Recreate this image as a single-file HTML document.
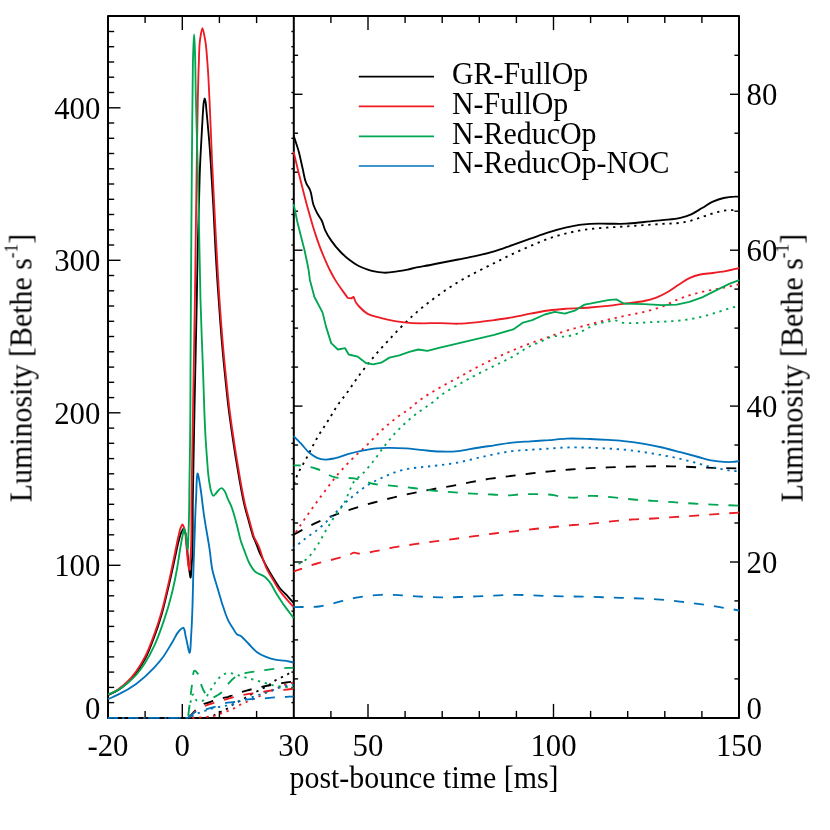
<!DOCTYPE html>
<html><head><meta charset="utf-8"><title>Luminosity vs post-bounce time</title>
<style>
html,body{margin:0;padding:0;background:#fff;}
body{width:830px;height:830px;overflow:hidden;font-family:"Liberation Serif",serif;}
svg{display:block;}
</style></head><body>
<svg width="830" height="830" viewBox="0 0 830 830">
<defs><clipPath id="cl"><rect x="107.0" y="16.1" width="187.7" height="702.9"/></clipPath><clipPath id="cr"><rect x="292.8" y="16.1" width="447.2" height="702.9"/></clipPath></defs>
<rect width="830" height="830" fill="#fff"/>
<g stroke="#000" stroke-width="1.40" fill="none"><line x1="108.0" y1="717.9" x2="120.5" y2="717.9"/><line x1="293.8" y1="717.9" x2="290.1" y2="717.9"/><line x1="108.0" y1="702.6" x2="114.2" y2="702.6"/><line x1="293.8" y1="702.6" x2="291.4" y2="702.6"/><line x1="108.0" y1="687.4" x2="114.2" y2="687.4"/><line x1="293.8" y1="687.4" x2="291.4" y2="687.4"/><line x1="108.0" y1="672.1" x2="114.2" y2="672.1"/><line x1="293.8" y1="672.1" x2="291.4" y2="672.1"/><line x1="108.0" y1="656.9" x2="114.2" y2="656.9"/><line x1="293.8" y1="656.9" x2="291.4" y2="656.9"/><line x1="108.0" y1="641.6" x2="114.2" y2="641.6"/><line x1="293.8" y1="641.6" x2="291.4" y2="641.6"/><line x1="108.0" y1="626.4" x2="114.2" y2="626.4"/><line x1="293.8" y1="626.4" x2="291.4" y2="626.4"/><line x1="108.0" y1="611.1" x2="114.2" y2="611.1"/><line x1="293.8" y1="611.1" x2="291.4" y2="611.1"/><line x1="108.0" y1="595.8" x2="114.2" y2="595.8"/><line x1="293.8" y1="595.8" x2="291.4" y2="595.8"/><line x1="108.0" y1="580.6" x2="114.2" y2="580.6"/><line x1="293.8" y1="580.6" x2="291.4" y2="580.6"/><line x1="108.0" y1="565.3" x2="120.5" y2="565.3"/><line x1="293.8" y1="565.3" x2="290.1" y2="565.3"/><line x1="108.0" y1="550.1" x2="114.2" y2="550.1"/><line x1="293.8" y1="550.1" x2="291.4" y2="550.1"/><line x1="108.0" y1="534.8" x2="114.2" y2="534.8"/><line x1="293.8" y1="534.8" x2="291.4" y2="534.8"/><line x1="108.0" y1="519.6" x2="114.2" y2="519.6"/><line x1="293.8" y1="519.6" x2="291.4" y2="519.6"/><line x1="108.0" y1="504.3" x2="114.2" y2="504.3"/><line x1="293.8" y1="504.3" x2="291.4" y2="504.3"/><line x1="108.0" y1="489.1" x2="114.2" y2="489.1"/><line x1="293.8" y1="489.1" x2="291.4" y2="489.1"/><line x1="108.0" y1="473.8" x2="114.2" y2="473.8"/><line x1="293.8" y1="473.8" x2="291.4" y2="473.8"/><line x1="108.0" y1="458.6" x2="114.2" y2="458.6"/><line x1="293.8" y1="458.6" x2="291.4" y2="458.6"/><line x1="108.0" y1="443.3" x2="114.2" y2="443.3"/><line x1="293.8" y1="443.3" x2="291.4" y2="443.3"/><line x1="108.0" y1="428.1" x2="114.2" y2="428.1"/><line x1="293.8" y1="428.1" x2="291.4" y2="428.1"/><line x1="108.0" y1="412.8" x2="120.5" y2="412.8"/><line x1="293.8" y1="412.8" x2="290.1" y2="412.8"/><line x1="108.0" y1="397.6" x2="114.2" y2="397.6"/><line x1="293.8" y1="397.6" x2="291.4" y2="397.6"/><line x1="108.0" y1="382.3" x2="114.2" y2="382.3"/><line x1="293.8" y1="382.3" x2="291.4" y2="382.3"/><line x1="108.0" y1="367.1" x2="114.2" y2="367.1"/><line x1="293.8" y1="367.1" x2="291.4" y2="367.1"/><line x1="108.0" y1="351.8" x2="114.2" y2="351.8"/><line x1="293.8" y1="351.8" x2="291.4" y2="351.8"/><line x1="108.0" y1="336.5" x2="114.2" y2="336.5"/><line x1="293.8" y1="336.5" x2="291.4" y2="336.5"/><line x1="108.0" y1="321.3" x2="114.2" y2="321.3"/><line x1="293.8" y1="321.3" x2="291.4" y2="321.3"/><line x1="108.0" y1="306.0" x2="114.2" y2="306.0"/><line x1="293.8" y1="306.0" x2="291.4" y2="306.0"/><line x1="108.0" y1="290.8" x2="114.2" y2="290.8"/><line x1="293.8" y1="290.8" x2="291.4" y2="290.8"/><line x1="108.0" y1="275.5" x2="114.2" y2="275.5"/><line x1="293.8" y1="275.5" x2="291.4" y2="275.5"/><line x1="108.0" y1="260.3" x2="120.5" y2="260.3"/><line x1="293.8" y1="260.3" x2="290.1" y2="260.3"/><line x1="108.0" y1="245.0" x2="114.2" y2="245.0"/><line x1="293.8" y1="245.0" x2="291.4" y2="245.0"/><line x1="108.0" y1="229.8" x2="114.2" y2="229.8"/><line x1="293.8" y1="229.8" x2="291.4" y2="229.8"/><line x1="108.0" y1="214.5" x2="114.2" y2="214.5"/><line x1="293.8" y1="214.5" x2="291.4" y2="214.5"/><line x1="108.0" y1="199.3" x2="114.2" y2="199.3"/><line x1="293.8" y1="199.3" x2="291.4" y2="199.3"/><line x1="108.0" y1="184.0" x2="114.2" y2="184.0"/><line x1="293.8" y1="184.0" x2="291.4" y2="184.0"/><line x1="108.0" y1="168.8" x2="114.2" y2="168.8"/><line x1="293.8" y1="168.8" x2="291.4" y2="168.8"/><line x1="108.0" y1="153.5" x2="114.2" y2="153.5"/><line x1="293.8" y1="153.5" x2="291.4" y2="153.5"/><line x1="108.0" y1="138.3" x2="114.2" y2="138.3"/><line x1="293.8" y1="138.3" x2="291.4" y2="138.3"/><line x1="108.0" y1="123.0" x2="114.2" y2="123.0"/><line x1="293.8" y1="123.0" x2="291.4" y2="123.0"/><line x1="108.0" y1="107.8" x2="120.5" y2="107.8"/><line x1="293.8" y1="107.8" x2="290.1" y2="107.8"/><line x1="108.0" y1="92.5" x2="114.2" y2="92.5"/><line x1="293.8" y1="92.5" x2="291.4" y2="92.5"/><line x1="108.0" y1="77.2" x2="114.2" y2="77.2"/><line x1="293.8" y1="77.2" x2="291.4" y2="77.2"/><line x1="108.0" y1="62.0" x2="114.2" y2="62.0"/><line x1="293.8" y1="62.0" x2="291.4" y2="62.0"/><line x1="108.0" y1="46.7" x2="114.2" y2="46.7"/><line x1="293.8" y1="46.7" x2="291.4" y2="46.7"/><line x1="108.0" y1="31.5" x2="114.2" y2="31.5"/><line x1="293.8" y1="31.5" x2="291.4" y2="31.5"/><line x1="108.0" y1="16.2" x2="114.2" y2="16.2"/><line x1="293.8" y1="16.2" x2="291.4" y2="16.2"/><line x1="145.1" y1="16.1" x2="145.1" y2="23.1"/><line x1="145.1" y1="717.9" x2="145.1" y2="710.9"/><line x1="182.3" y1="16.1" x2="182.3" y2="30.1"/><line x1="182.3" y1="717.9" x2="182.3" y2="703.9"/><line x1="219.4" y1="16.1" x2="219.4" y2="23.1"/><line x1="219.4" y1="717.9" x2="219.4" y2="710.9"/><line x1="256.6" y1="16.1" x2="256.6" y2="23.1"/><line x1="256.6" y1="717.9" x2="256.6" y2="710.9"/><line x1="330.9" y1="16.1" x2="330.9" y2="23.1"/><line x1="330.9" y1="717.9" x2="330.9" y2="710.9"/><line x1="368.0" y1="16.1" x2="368.0" y2="30.1"/><line x1="368.0" y1="717.9" x2="368.0" y2="703.9"/><line x1="405.1" y1="16.1" x2="405.1" y2="23.1"/><line x1="405.1" y1="717.9" x2="405.1" y2="710.9"/><line x1="442.2" y1="16.1" x2="442.2" y2="23.1"/><line x1="442.2" y1="717.9" x2="442.2" y2="710.9"/><line x1="479.3" y1="16.1" x2="479.3" y2="23.1"/><line x1="479.3" y1="717.9" x2="479.3" y2="710.9"/><line x1="516.4" y1="16.1" x2="516.4" y2="23.1"/><line x1="516.4" y1="717.9" x2="516.4" y2="710.9"/><line x1="553.5" y1="16.1" x2="553.5" y2="30.1"/><line x1="553.5" y1="717.9" x2="553.5" y2="703.9"/><line x1="590.6" y1="16.1" x2="590.6" y2="23.1"/><line x1="590.6" y1="717.9" x2="590.6" y2="710.9"/><line x1="627.7" y1="16.1" x2="627.7" y2="23.1"/><line x1="627.7" y1="717.9" x2="627.7" y2="710.9"/><line x1="664.8" y1="16.1" x2="664.8" y2="23.1"/><line x1="664.8" y1="717.9" x2="664.8" y2="710.9"/><line x1="701.9" y1="16.1" x2="701.9" y2="23.1"/><line x1="701.9" y1="717.9" x2="701.9" y2="710.9"/><line x1="293.8" y1="678.9" x2="298.1" y2="678.9"/><line x1="739.0" y1="678.9" x2="734.4" y2="678.9"/><line x1="293.8" y1="639.9" x2="298.1" y2="639.9"/><line x1="739.0" y1="639.9" x2="734.4" y2="639.9"/><line x1="293.8" y1="600.9" x2="298.1" y2="600.9"/><line x1="739.0" y1="600.9" x2="734.4" y2="600.9"/><line x1="293.8" y1="562.0" x2="302.5" y2="562.0"/><line x1="739.0" y1="562.0" x2="730.0" y2="562.0"/><line x1="293.8" y1="523.0" x2="298.1" y2="523.0"/><line x1="739.0" y1="523.0" x2="734.4" y2="523.0"/><line x1="293.8" y1="484.0" x2="298.1" y2="484.0"/><line x1="739.0" y1="484.0" x2="734.4" y2="484.0"/><line x1="293.8" y1="445.0" x2="298.1" y2="445.0"/><line x1="739.0" y1="445.0" x2="734.4" y2="445.0"/><line x1="293.8" y1="406.1" x2="302.5" y2="406.1"/><line x1="739.0" y1="406.1" x2="730.0" y2="406.1"/><line x1="293.8" y1="367.1" x2="298.1" y2="367.1"/><line x1="739.0" y1="367.1" x2="734.4" y2="367.1"/><line x1="293.8" y1="328.1" x2="298.1" y2="328.1"/><line x1="739.0" y1="328.1" x2="734.4" y2="328.1"/><line x1="293.8" y1="289.1" x2="298.1" y2="289.1"/><line x1="739.0" y1="289.1" x2="734.4" y2="289.1"/><line x1="293.8" y1="250.2" x2="302.5" y2="250.2"/><line x1="739.0" y1="250.2" x2="730.0" y2="250.2"/><line x1="293.8" y1="211.2" x2="298.1" y2="211.2"/><line x1="739.0" y1="211.2" x2="734.4" y2="211.2"/><line x1="293.8" y1="172.2" x2="298.1" y2="172.2"/><line x1="739.0" y1="172.2" x2="734.4" y2="172.2"/><line x1="293.8" y1="133.2" x2="298.1" y2="133.2"/><line x1="739.0" y1="133.2" x2="734.4" y2="133.2"/><line x1="293.8" y1="94.3" x2="302.5" y2="94.3"/><line x1="739.0" y1="94.3" x2="730.0" y2="94.3"/><line x1="293.8" y1="55.3" x2="298.1" y2="55.3"/><line x1="739.0" y1="55.3" x2="734.4" y2="55.3"/></g>
<g stroke="#000" stroke-width="2.0" stroke-linejoin="round" fill="none"><rect x="108.0" y="16.1" width="631.0" height="701.8"/><line x1="293.8" y1="16.1" x2="293.8" y2="717.9"/></g>
<g fill="none" stroke-width="1.85" stroke-linejoin="round" clip-path="url(#cl)">
<path d="M108.1 695.2C111.4 693.5 114.9 692.2 118.0 690.2C121.2 688.1 124.3 685.6 127.1 683.0C130.4 680.0 133.4 676.5 136.1 673.0C139.6 668.5 142.5 663.6 145.2 658.6C148.9 651.7 151.5 644.2 154.2 636.9C156.9 629.8 159.3 622.5 161.4 615.2C163.5 608.0 165.1 600.8 166.9 593.5C168.8 585.7 170.6 577.8 172.3 570.0C173.6 564.3 174.7 558.7 176.0 553.0C177.1 548.0 178.0 542.9 179.5 538.0C180.2 535.6 180.7 533.1 182.0 531.0C182.4 530.3 183.0 529.1 183.4 529.0C184.0 528.9 184.5 531.0 185.0 532.0C187.1 536.6 186.4 542.0 187.0 547.0C187.8 554.0 188.0 561.0 189.0 568.0C189.4 571.2 190.1 577.1 190.5 577.5C191.0 578.0 191.4 569.2 191.7 565.0C193.5 543.4 192.4 521.7 192.8 500.0C193.2 480.0 193.5 460.0 193.9 440.0C194.3 416.7 194.8 393.3 195.3 370.0C195.8 346.7 196.3 323.3 196.8 300.0C197.1 283.3 197.3 266.7 197.7 250.0C198.0 235.2 198.5 220.5 198.9 205.7C199.3 192.8 199.5 179.9 200.0 167.0C200.3 159.7 200.7 152.3 201.1 145.0C201.4 139.5 201.7 134.1 202.0 128.6C202.4 122.4 202.6 116.2 203.1 110.0C203.3 107.2 203.3 104.3 203.9 101.5C204.1 100.5 204.4 98.5 204.7 98.5C205.0 98.5 205.3 100.5 205.5 101.5C206.1 104.3 206.1 107.2 206.4 110.0C207.0 116.2 207.6 122.4 208.1 128.6C208.6 134.1 209.1 139.5 209.5 145.0C210.1 152.3 210.5 159.7 211.0 167.0C211.8 179.9 212.6 192.8 213.3 205.7C214.1 220.5 214.7 235.2 215.5 250.0C216.4 266.7 217.5 283.3 218.7 300.0C219.6 313.3 220.6 326.7 221.7 340.0C222.8 353.3 224.1 366.7 225.5 380.0C226.6 390.8 227.7 401.7 229.1 412.5C230.3 421.7 231.6 430.8 233.0 440.0C234.1 447.2 235.2 454.5 236.4 461.7C237.6 468.9 238.8 476.2 240.1 483.4C241.4 490.7 242.7 497.9 244.4 505.1C245.9 511.4 247.8 517.6 249.5 523.9C250.7 528.3 252.0 532.8 253.3 537.2C253.7 538.1 254.2 538.9 254.6 539.8C256.6 544.0 257.8 548.6 259.7 552.8C260.7 555.1 261.9 557.3 263.0 559.5C264.0 561.6 265.0 563.7 266.1 565.8C268.3 570.0 270.8 574.1 273.4 578.2C275.7 581.9 277.8 585.7 280.6 589.0C282.8 591.6 285.5 593.8 287.8 596.3C289.8 598.5 291.7 600.8 293.6 603.0" stroke="#000"/>
<path d="M188.7 717.9C190.9 715.5 192.9 712.9 195.2 710.7C197.7 708.3 200.1 705.5 203.2 704.1C205.0 703.3 207.0 703.1 208.9 702.5C210.4 702.0 211.8 701.4 213.3 700.9C216.2 699.9 219.2 698.8 222.2 698.1C224.0 697.7 225.9 697.6 227.7 697.1C229.1 696.7 230.5 696.0 231.9 695.5C235.0 694.3 238.1 693.1 241.3 692.1C243.0 691.6 244.8 691.1 246.5 690.6C252.9 688.8 259.5 687.3 266.0 686.0C272.7 684.6 279.5 683.5 286.3 682.5C288.7 682.1 291.2 681.8 293.6 681.5" stroke="#000" stroke-dasharray="10 10.1" id="L_black_dash" stroke-dashoffset="19.6"/>
<path d="M188.4 717.9L207.0 717.9C209.3 717.0 211.7 716.3 214.0 715.3C216.2 714.3 218.3 713.1 220.5 712.0C222.6 711.0 224.7 710.1 226.7 708.9C228.8 707.7 230.7 706.1 232.7 704.8C236.6 702.3 240.9 700.3 245.0 698.0C247.3 696.7 249.6 695.3 252.0 694.0C254.2 692.8 256.5 691.7 258.8 690.5C262.0 688.8 265.2 687.3 268.2 685.4C270.7 683.9 272.9 681.9 275.4 680.4C277.3 679.3 279.3 678.5 281.2 677.5C283.1 676.5 285.1 675.6 287.0 674.6C289.2 673.4 291.4 672.2 293.6 671.0" stroke="#000" stroke-dasharray="2.3 4.75" stroke-width="1.85" id="L_black_dot" stroke-dashoffset="2.9"/>
<path d="M108.1 694.8C111.4 693.0 114.9 691.6 118.0 689.5C121.3 687.3 124.3 684.7 127.1 682.0C130.4 678.8 133.4 675.2 136.1 671.5C139.6 666.8 142.5 661.7 145.2 656.5C148.8 649.5 151.5 641.9 154.2 634.5C156.9 627.3 159.3 619.9 161.4 612.5C163.5 605.2 165.2 597.9 166.9 590.5C168.5 583.7 170.0 576.8 171.5 570.0C172.7 564.3 173.8 558.7 175.0 553.0C176.2 547.3 177.1 541.6 178.5 536.0C179.3 533.0 179.6 529.7 181.0 527.0C181.4 526.1 182.0 524.6 182.5 524.5C183.1 524.4 183.7 526.8 184.2 528.0C185.9 532.3 185.5 537.3 186.0 542.0C186.8 548.7 187.1 555.4 188.0 562.0C188.4 564.7 188.8 569.7 189.2 570.0C189.6 570.4 190.0 563.3 190.3 560.0C192.2 540.1 191.1 520.0 191.5 500.0C191.9 480.0 192.2 460.0 192.5 440.0C192.9 416.7 193.3 393.3 193.7 370.0C194.1 346.7 194.5 323.3 194.9 300.0C195.3 275.0 195.6 250.0 195.9 225.0C196.2 203.3 196.5 181.7 196.8 160.0C197.1 140.0 197.3 120.0 197.8 100.0C198.1 88.0 198.3 76.0 198.8 64.0C199.2 55.3 198.9 46.5 200.3 38.0C200.9 34.7 201.7 28.1 202.4 28.1C203.2 28.1 204.1 34.7 204.8 38.0C206.5 46.5 206.8 55.3 207.5 64.0C208.5 76.0 208.9 88.0 209.5 100.0C210.5 120.0 211.1 140.0 212.0 160.0C213.1 183.3 214.3 206.7 215.5 230.0C216.8 253.3 217.9 276.7 219.5 300.0C220.4 313.3 221.4 326.7 222.5 340.0C223.6 353.3 224.9 366.7 226.3 380.0C227.4 390.8 228.5 401.7 229.9 412.5C231.1 421.7 232.4 430.8 233.8 440.0C234.9 447.2 236.0 454.5 237.2 461.7C238.4 468.9 239.6 476.2 240.9 483.4C242.2 490.7 243.5 497.9 245.2 505.1C246.7 511.4 248.6 517.6 250.3 523.9C251.5 528.2 252.7 532.6 253.9 536.9C255.6 540.3 257.5 543.5 259.0 547.0C260.8 551.2 261.7 555.7 263.3 560.0C264.2 562.4 265.1 564.9 266.1 567.3C268.1 571.9 270.9 576.1 273.4 580.4C275.7 584.3 277.9 588.3 280.6 591.9C282.8 594.9 285.3 597.8 287.8 600.6C289.7 602.8 291.7 604.9 293.6 607.0" stroke="#ed1c24"/>
<path d="M188.7 717.9C190.9 715.7 192.8 713.4 195.2 711.5C198.0 709.3 201.3 707.4 204.6 705.9C207.6 704.6 210.8 703.8 214.0 702.8C217.3 701.8 220.7 700.9 224.1 699.9C227.0 699.1 229.9 698.2 232.8 697.4C236.4 696.4 240.0 695.5 243.6 694.8C246.5 694.2 249.4 693.8 252.3 693.4C255.9 692.9 259.5 692.4 263.1 691.9C266.0 691.5 268.9 690.8 271.8 690.5C275.6 690.0 279.5 690.1 283.4 689.8C286.8 689.5 290.2 689.1 293.6 688.7" stroke="#ed1c24" stroke-dasharray="10 10.1" id="L_red_dash" stroke-dashoffset="19.9"/>
<path d="M188.4 717.9L193.0 717.9C197.8 717.5 202.7 717.4 207.5 716.8C209.7 716.5 211.9 716.3 214.0 715.8C216.2 715.3 218.3 714.3 220.5 713.6C222.7 712.9 224.9 712.2 227.0 711.4C229.2 710.6 231.4 709.6 233.5 708.6C235.7 707.5 237.8 706.0 240.0 704.9C242.1 703.8 244.3 703.0 246.5 702.0C248.7 701.1 250.8 700.1 253.0 699.2C255.2 698.2 257.4 697.4 259.5 696.3C261.7 695.2 263.8 693.7 266.0 692.6C268.1 691.6 270.3 690.7 272.5 689.8C274.6 688.9 276.8 688.1 279.0 687.3C281.2 686.4 283.3 685.4 285.5 684.7C288.1 683.8 290.9 683.3 293.6 682.6" stroke="#ed1c24" stroke-dasharray="2.3 4.75" stroke-width="1.85" id="L_red_dot" stroke-dashoffset="3.3"/>
<path d="M108.1 694.5C111.4 693.0 114.9 691.8 118.0 690.0C121.2 688.1 124.2 685.9 127.1 683.5C130.3 680.9 133.3 678.1 136.1 675.0C139.4 671.3 142.3 667.2 145.0 663.0C148.5 657.6 151.5 651.7 154.2 645.9C157.8 638.3 160.6 630.3 163.3 622.4C166.8 612.3 169.8 602.1 172.3 591.7C174.0 584.5 175.5 577.3 176.8 570.0C178.0 563.4 178.9 556.7 180.0 550.0C180.8 545.3 181.4 540.6 182.5 536.0C183.0 533.7 183.7 528.8 184.3 529.0C184.8 529.2 185.4 533.0 185.8 535.0C186.8 539.7 187.2 548.6 187.6 549.3C188.2 550.2 188.3 536.4 188.6 530.0C189.3 513.3 189.2 496.7 189.5 480.0C189.7 466.7 189.9 453.3 190.1 440.0C190.4 416.7 190.4 393.3 190.5 370.0C190.6 346.7 190.8 323.3 190.9 300.0C191.1 275.0 191.2 250.0 191.4 225.0C191.6 203.3 191.7 181.7 191.9 160.0C192.1 136.7 192.3 113.3 192.6 90.0C192.8 76.7 192.7 63.3 193.3 50.0C193.5 44.8 193.8 34.4 194.1 34.4C194.4 34.4 194.7 44.8 194.9 50.0C195.5 63.3 195.4 76.7 195.7 90.0C196.2 113.3 196.9 136.7 197.5 160.0C198.0 181.7 198.5 203.3 199.0 225.0C199.5 250.0 199.8 275.0 200.5 300.0C201.2 323.3 202.1 346.7 203.0 370.0C203.9 393.3 204.2 416.7 205.7 440.0C206.1 445.7 206.4 451.3 206.9 457.0C207.6 466.0 207.9 475.1 209.6 484.0C210.1 486.7 210.3 489.5 211.3 492.0C211.8 493.3 212.4 495.8 213.3 495.8C213.9 495.8 214.8 494.7 215.5 494.0C216.7 492.9 217.3 491.2 218.5 490.2C219.4 489.4 220.7 488.1 221.7 488.2C222.9 488.3 223.9 490.3 224.8 491.5C226.3 493.6 226.6 496.3 227.7 498.7C228.7 500.9 229.9 502.9 230.8 505.1C233.4 511.1 234.9 517.6 236.6 523.9C238.2 529.6 239.1 535.5 240.9 541.2C242.2 545.1 243.7 548.9 245.2 552.8C246.4 556.0 247.4 559.4 249.0 562.5C250.7 565.8 252.6 569.3 255.3 571.7C257.9 574.0 262.0 574.5 264.7 576.7C266.3 578.0 267.7 579.5 269.0 581.1C272.1 584.7 273.8 589.4 276.3 593.4C279.1 597.8 281.9 602.2 284.9 606.4C287.7 610.3 290.7 614.1 293.6 618.0" stroke="#00a651"/>
<path d="M188.0 717.9C188.7 712.1 189.4 706.4 190.1 700.6C190.8 694.8 191.2 689.0 192.3 683.3C193.1 679.1 192.7 669.2 195.2 670.8C195.9 671.2 196.9 672.5 197.6 673.4C199.8 676.3 199.6 680.5 200.9 683.9C202.0 686.8 203.0 689.9 204.7 692.5C205.7 693.9 206.6 695.6 208.0 696.5C208.9 697.1 210.0 697.7 211.0 697.8C211.7 697.9 212.6 697.6 213.3 697.4C214.8 697.0 216.1 696.0 217.5 695.2C218.9 694.4 220.3 693.5 221.5 692.5C224.1 690.3 225.5 686.9 227.8 684.3C230.0 681.8 232.2 679.0 234.9 677.2C237.9 675.2 241.6 674.1 245.1 673.1C249.7 671.8 254.7 671.7 259.5 671.0C264.3 670.3 269.1 669.3 274.0 668.8C280.5 668.1 287.1 668.0 293.6 667.6" stroke="#00a651" stroke-dasharray="10 10.1" id="L_green_dash" stroke-dashoffset="17.0"/>
<path d="M188.3 717.9C188.8 713.5 188.9 709.0 189.9 704.8C190.8 701.3 192.0 693.8 193.5 694.4C194.5 694.8 195.0 699.7 196.8 700.7C198.3 701.5 201.1 701.4 202.8 700.7C204.7 699.9 205.9 697.3 207.3 695.5C208.7 693.6 209.8 691.5 211.0 689.5C212.2 687.5 213.3 685.4 214.7 683.5C216.1 681.5 217.5 679.5 219.2 677.9C220.9 676.3 222.7 674.6 224.8 673.8C226.9 673.1 229.4 673.1 231.6 673.3C234.0 673.5 236.4 674.6 238.7 675.3C240.6 675.9 242.4 676.6 244.3 677.2C246.4 677.8 248.6 678.3 250.8 678.9C253.5 679.6 256.1 680.3 258.8 681.1C261.4 681.9 264.1 682.7 266.7 683.5C268.6 684.1 270.6 684.6 272.5 685.1C277.2 686.2 282.2 686.6 287.0 687.2C289.2 687.5 291.4 687.7 293.6 688.0" stroke="#00a651" stroke-dasharray="2.3 4.75" stroke-width="1.85" id="L_green_dot" stroke-dashoffset="5.6"/>
<path d="M108.1 699.2C111.4 697.7 114.8 696.3 118.0 694.7C124.3 691.6 130.4 688.0 136.1 683.9C142.6 679.1 148.7 673.5 154.2 667.6C157.4 664.1 160.5 660.5 163.3 656.7C166.6 652.1 169.3 647.1 172.3 642.3C174.7 638.4 176.2 633.7 179.5 630.5C180.5 629.5 181.9 628.0 182.8 627.8C184.8 627.3 184.9 633.8 185.8 636.9C187.3 642.1 188.6 652.3 189.5 652.8C190.6 653.4 190.8 639.6 191.3 633.0C191.9 624.0 192.2 615.0 192.5 606.0C192.9 594.0 193.0 582.0 193.4 570.0C193.7 560.0 194.1 550.0 194.5 540.0C195.0 526.7 195.2 513.3 196.0 500.0C196.5 491.3 196.6 470.5 197.9 473.9C198.5 475.4 199.4 481.3 200.0 485.0C201.8 495.5 202.6 506.2 204.2 516.7C205.8 527.6 208.0 538.4 209.6 549.3C210.6 556.2 211.0 563.2 212.4 570.0C213.7 576.1 215.8 582.0 217.5 588.0C219.3 594.0 220.9 600.1 222.9 606.0C224.6 610.9 226.0 616.0 228.3 620.6C229.9 623.7 231.8 626.7 233.7 629.6C234.8 631.3 235.6 633.5 237.2 634.6C238.2 635.3 239.7 635.4 240.8 636.0C242.3 636.9 243.4 638.4 244.6 639.6C246.0 641.0 247.4 642.5 248.8 644.0C251.4 646.7 253.7 649.7 256.7 651.9C259.3 653.8 262.4 655.4 265.4 656.7C268.9 658.2 272.6 659.3 276.3 659.9C279.1 660.4 282.1 660.2 284.9 660.6C287.8 661.0 290.7 661.9 293.6 662.5" stroke="#0072bc"/>
<path d="M188.2 717.9C190.8 715.7 193.1 712.9 196.1 711.5C199.0 710.1 202.6 710.1 205.8 709.3C209.0 708.5 212.3 707.7 215.5 706.7C218.8 705.7 221.9 704.0 225.2 703.2C228.2 702.5 231.4 702.5 234.5 702.0C238.0 701.4 241.5 700.4 245.0 699.9C247.9 699.5 250.8 699.1 253.7 698.9C257.3 698.6 261.0 698.7 264.6 698.4C267.7 698.2 270.9 697.6 274.0 697.4C277.6 697.1 281.2 697.2 284.8 697.0C287.7 696.8 290.7 696.5 293.6 696.3" stroke="#0072bc" stroke-dasharray="10 10.1" id="L_blue_dash" stroke-dashoffset="19.9"/>
<path d="M188.5 717.9C191.9 716.2 195.3 714.3 198.8 712.9C200.9 712.1 203.1 711.4 205.3 710.7C207.5 710.0 209.6 709.2 211.8 708.6C213.9 708.0 216.1 707.5 218.3 707.1C221.0 706.6 223.6 706.2 226.3 705.7C228.5 705.3 230.7 704.9 232.8 704.2C235.0 703.5 237.1 702.1 239.3 701.3C241.4 700.5 243.6 699.9 245.8 699.2C248.0 698.5 250.1 697.7 252.3 697.0C254.5 696.3 256.6 695.5 258.8 694.8C261.2 694.0 263.6 693.4 266.0 692.6C268.2 691.9 270.4 691.3 272.5 690.5C274.7 689.7 276.8 688.6 279.0 687.9C281.1 687.2 283.3 686.6 285.5 686.1C288.2 685.5 290.9 685.0 293.6 684.5" stroke="#0072bc" stroke-dasharray="2.3 4.75" stroke-width="1.85" id="L_blue_dot" stroke-dashoffset="3.8"/>
<path d="M107.95 717.87H188.4" stroke="#0072bc" stroke-dasharray="10 10.1"/>
<path d="M107.95 717.87H188.4" stroke="#0072bc" stroke-dasharray="2.3 4.75"/>
</g>
<g fill="none" stroke-width="1.85" stroke-linejoin="round" clip-path="url(#cr)">
<path d="M293.6 135.4C295.4 141.1 297.4 146.7 299.0 152.5C300.4 157.9 301.4 163.4 302.7 168.8C303.9 173.6 304.2 178.8 306.3 183.3C307.3 185.5 308.9 187.4 309.9 189.6C312.1 194.4 311.7 200.1 313.5 205.0C314.5 207.7 315.7 210.4 317.1 213.0C318.4 215.5 320.3 217.8 321.6 220.3C323.2 223.5 323.7 227.1 325.2 230.3C326.9 234.1 329.2 237.7 331.6 241.1C334.3 245.0 337.3 248.6 340.6 252.0C343.4 254.9 346.4 257.6 349.6 260.0C352.5 262.2 355.5 264.3 358.7 266.0C361.6 267.5 364.6 268.6 367.7 269.6C369.5 270.2 371.3 270.8 373.1 271.2C376.7 272.1 380.4 272.6 384.0 272.7C388.8 272.9 393.6 271.9 398.4 271.2C401.4 270.8 404.5 270.2 407.5 269.6C410.5 269.0 413.5 268.0 416.5 267.4C418.9 266.9 421.3 266.6 423.7 266.2C429.2 265.2 434.6 264.1 440.0 263.0C446.0 261.8 452.1 260.7 458.1 259.5C464.1 258.3 470.1 257.2 476.1 255.9C482.2 254.5 488.2 253.2 494.2 251.4C500.3 249.6 506.3 247.2 512.3 245.1C518.3 243.0 524.4 240.8 530.4 238.7C536.4 236.6 542.3 234.3 548.4 232.4C554.4 230.5 560.4 228.8 566.5 227.4C570.7 226.4 574.9 225.4 579.2 224.8C582.8 224.3 586.4 224.0 590.0 223.8C596.0 223.4 602.1 223.7 608.1 223.7C614.1 223.7 620.1 224.0 626.1 223.7C632.1 223.4 638.2 222.6 644.2 222.0C650.2 221.4 656.3 220.9 662.3 220.2C668.3 219.5 674.5 219.4 680.4 217.9C684.1 217.0 687.7 215.8 691.2 214.3C695.0 212.6 698.5 210.1 702.1 208.0C705.7 205.9 709.1 203.3 712.9 201.6C716.3 200.1 720.0 198.8 723.7 198.0C727.3 197.2 730.9 196.8 734.6 196.7C736.1 196.6 737.7 196.7 739.2 196.7" stroke="#000"/>
<path d="M293.6 534.6C301.4 530.5 309.1 526.1 317.1 522.4C323.0 519.7 329.1 517.1 335.2 514.8C341.4 512.4 347.8 510.4 354.2 508.4C360.8 506.3 367.4 504.3 374.0 502.5C380.3 500.8 386.6 499.1 393.0 497.6C399.6 496.0 406.2 494.5 412.9 493.1C419.2 491.8 425.5 490.4 431.9 489.3C436.7 488.4 441.5 487.7 446.3 486.9C454.5 485.5 462.6 483.7 470.7 482.2C477.3 481.0 483.9 479.7 490.6 478.7C497.2 477.7 503.9 476.9 510.5 476.0C517.1 475.1 523.8 474.3 530.4 473.5C537.0 472.7 543.6 472.0 550.2 471.3C556.8 470.6 563.5 470.0 570.1 469.5C576.7 469.0 583.4 468.5 590.0 468.1C596.0 467.8 602.1 467.6 608.1 467.4C615.3 467.1 622.6 466.8 629.8 466.6C637.0 466.4 644.3 466.3 651.5 466.3C658.1 466.3 664.7 466.2 671.3 466.3C677.9 466.4 684.6 466.7 691.2 467.0C698.4 467.3 705.7 467.7 712.9 467.9C721.7 468.2 730.4 468.2 739.2 468.4" stroke="#000" stroke-dasharray="10 10.1" id="R_black_dash"/>
<path d="M293.6 485.0C294.7 482.0 295.7 478.9 296.9 475.9C299.7 469.3 303.8 463.3 307.2 456.9C310.5 450.6 313.5 444.2 317.1 438.0C320.5 432.1 324.4 426.5 328.0 420.8C331.9 414.6 335.3 408.1 339.7 402.2C341.1 400.3 342.7 398.4 344.2 396.5C349.6 389.5 354.3 381.9 359.6 374.8C364.0 369.0 368.4 363.2 373.1 357.6C377.8 352.0 382.7 346.7 387.6 341.3C392.4 336.1 397.1 331.0 402.1 326.0C406.8 321.3 411.5 316.7 416.5 312.4C420.0 309.3 423.7 306.3 427.4 303.4C431.5 300.2 435.7 297.1 440.0 294.1C445.9 289.9 451.9 285.8 458.1 282.1C464.0 278.6 470.0 275.4 476.1 272.2C482.1 269.1 488.2 266.1 494.2 263.1C500.2 260.1 506.2 257.0 512.3 254.1C518.3 251.3 524.3 248.6 530.4 246.0C536.4 243.5 542.3 240.8 548.4 238.7C554.3 236.6 560.4 234.8 566.5 233.3C570.7 232.3 574.9 231.4 579.2 230.6C582.8 230.0 586.4 229.4 590.0 229.0C596.0 228.3 602.1 227.9 608.1 227.5C614.1 227.1 620.1 226.8 626.1 226.4C632.1 226.0 638.2 225.5 644.2 225.1C650.2 224.7 656.3 224.3 662.3 223.9C668.3 223.5 674.4 223.7 680.4 222.8C684.0 222.3 687.7 221.5 691.2 220.6C694.9 219.6 698.5 218.2 702.1 217.0C705.7 215.8 709.3 214.5 712.9 213.4C716.5 212.4 720.0 211.2 723.7 210.7C727.3 210.2 731.0 210.2 734.6 210.1C736.1 210.1 737.7 210.0 739.2 210.0" stroke="#000" stroke-dasharray="2.3 4.75" stroke-width="1.85" id="R_black_dot" stroke-dashoffset="-1.1"/>
<path d="M293.6 151.6C295.4 159.1 297.1 166.7 299.0 174.2C300.8 181.4 302.6 188.7 304.5 195.9C306.2 202.5 308.0 209.2 309.9 215.8C311.6 221.9 313.3 227.9 315.3 233.9C317.5 240.6 319.8 247.2 322.5 253.7C324.8 259.2 327.1 264.7 329.8 270.0C331.5 273.4 333.3 276.7 335.2 279.9C338.9 286.1 343.5 291.8 347.6 297.8L351.2 298.4L353.6 296.9C354.4 298.8 355.0 300.8 356.0 302.5C357.0 304.1 358.3 305.6 359.6 307.0C362.0 309.6 364.7 312.2 367.7 313.9C371.5 316.1 376.1 316.6 380.4 317.8C385.2 319.1 390.0 320.2 394.8 321.1C399.6 321.9 404.4 322.5 409.3 322.9C414.1 323.3 418.9 323.3 423.7 323.3C429.1 323.3 434.6 323.0 440.0 323.1C446.0 323.2 452.1 323.8 458.1 323.7C464.1 323.6 470.1 323.0 476.1 322.4C482.1 321.8 488.2 320.9 494.2 320.1C500.2 319.3 506.3 318.5 512.3 317.4C518.4 316.3 524.4 314.9 530.4 313.7C536.4 312.6 542.4 311.3 548.4 310.5C554.4 309.7 560.5 309.2 566.5 308.7C574.3 308.1 582.2 308.1 590.0 307.5C596.0 307.1 602.1 306.6 608.1 305.9C614.1 305.2 620.1 304.2 626.1 303.4C632.1 302.6 638.3 302.3 644.2 301.0C648.5 300.1 652.8 299.0 656.9 297.4C660.6 295.9 664.2 294.0 667.7 292.0C671.5 289.8 674.9 287.1 678.6 284.8C682.2 282.5 685.6 279.9 689.4 278.1C692.8 276.5 696.5 275.3 700.2 274.5C704.3 273.6 708.7 273.6 712.9 273.0C717.1 272.5 721.3 272.0 725.5 271.2C730.1 270.3 734.6 269.1 739.2 268.0" stroke="#ed1c24"/>
<path d="M293.6 571.6C301.4 568.9 309.2 565.8 317.1 563.5C323.7 561.6 330.4 560.3 337.0 558.4C341.4 557.2 345.8 556.2 350.0 554.5C351.4 553.9 352.8 552.8 354.2 552.7C355.4 552.6 356.7 553.3 358.0 553.5C363.6 554.3 369.4 552.1 375.0 551.2C381.6 550.1 388.2 548.4 394.8 547.2C401.4 546.0 408.1 545.2 414.7 544.2C421.3 543.2 428.0 542.3 434.6 541.4C439.4 540.8 444.2 540.2 449.0 539.6C457.4 538.5 465.9 537.3 474.3 536.2C480.9 535.3 487.6 534.3 494.2 533.5C500.8 532.7 507.5 532.0 514.1 531.3C520.7 530.5 527.4 529.7 534.0 529.0C540.6 528.3 547.3 527.7 553.9 527.0C560.5 526.3 567.1 525.6 573.7 525.0C579.1 524.5 584.6 524.3 590.0 523.8C597.8 523.1 605.7 522.0 613.5 521.2C620.1 520.5 626.8 519.9 633.4 519.4C640.0 519.0 646.7 518.9 653.3 518.5C659.9 518.1 666.5 517.6 673.1 517.2C679.7 516.7 686.4 516.3 693.0 515.8C699.6 515.3 706.3 514.8 712.9 514.3C721.7 513.7 730.4 513.2 739.2 512.7" stroke="#ed1c24" stroke-dasharray="10 10.1" id="R_red_dash" stroke-dashoffset="1.0"/>
<path d="M293.6 535.5C296.0 531.9 298.4 528.3 300.8 524.7C304.9 518.6 309.2 512.6 313.5 506.6C317.6 500.9 321.8 495.1 326.1 489.5C330.3 484.0 334.3 478.4 338.8 473.2C343.4 467.8 348.3 462.8 353.3 457.8C358.0 453.2 363.0 448.9 367.7 444.3C372.6 439.5 377.2 434.4 382.2 429.8C387.4 425.1 392.8 420.5 398.4 416.3C402.2 413.5 406.5 411.2 410.2 408.2C412.4 406.5 414.3 404.5 416.5 402.7C423.7 396.8 432.0 392.2 440.0 387.5C445.9 384.0 452.1 381.0 458.1 377.7C464.1 374.4 470.0 370.9 476.1 367.7C482.1 364.6 488.1 361.6 494.2 358.7C500.2 355.9 506.2 353.1 512.3 350.5C518.3 348.0 524.3 345.6 530.4 343.3C536.4 341.1 542.4 339.1 548.4 337.0C554.4 334.9 560.4 332.6 566.5 330.7C574.2 328.3 582.1 326.4 590.0 324.3C596.0 322.7 602.1 321.2 608.1 319.7C614.1 318.2 620.1 316.8 626.1 315.5C632.1 314.2 638.2 313.4 644.2 311.9C650.3 310.4 656.4 308.7 662.3 306.5C668.5 304.2 674.2 300.6 680.4 298.3C683.9 297.0 687.6 295.8 691.2 294.7C696.0 293.3 700.8 292.2 705.7 291.1C710.5 290.1 715.3 289.4 720.1 288.4C726.5 287.1 732.8 285.6 739.2 284.2" stroke="#ed1c24" stroke-dasharray="2.3 4.75" stroke-width="1.85" id="R_red_dot" stroke-dashoffset="-4.0"/>
<path d="M293.6 204.0L297.2 221.2L300.8 235.7L304.5 250.1L307.2 262.8L308.6 270.0L309.9 279.9L314.4 297.0L322.5 312.4L326.1 326.9L331.2 343.1L337.9 349.5L345.1 348.2L348.7 354.5L357.8 356.7L365.9 363.0L373.1 364.3L381.3 362.7L389.4 357.6L399.3 355.4L409.3 351.8L418.3 349.5L427.4 350.9L440.0 347.6L458.1 343.3L476.1 339.2L494.2 334.8L513.2 329.4L523.1 322.6L532.2 320.2L544.8 314.5L554.8 311.8L564.7 313.6L575.5 310.3L584.6 304.6L590.0 303.7L599.0 301.9L608.1 300.1L616.2 299.4L624.3 303.7L644.2 304.1L662.3 305.2L676.7 304.6L689.4 301.9L702.1 297.4L716.5 290.2L729.2 283.9L739.2 280.2" stroke="#00a651"/>
<path d="M293.6 465.4C296.4 465.5 299.2 465.3 302.0 465.6C307.1 466.1 312.2 467.4 317.1 469.0C323.4 471.0 328.9 475.9 335.2 477.4C341.2 478.9 348.0 477.4 354.2 478.4C360.9 479.5 367.3 482.8 374.0 484.0C380.2 485.1 386.7 485.2 393.0 485.8C399.6 486.5 406.3 487.2 412.9 488.0C419.5 488.8 426.1 490.0 432.8 490.7C437.9 491.2 443.0 491.5 448.1 491.9C456.2 492.5 464.4 493.1 472.5 493.6C479.1 494.0 485.8 494.2 492.4 494.5C499.0 494.8 505.7 495.8 512.3 495.2C514.1 495.0 515.9 494.7 517.7 494.5C522.8 494.0 528.0 494.1 533.1 494.1C540.0 494.2 547.1 494.0 553.9 495.2C555.4 495.5 556.9 495.8 558.4 496.1C563.2 496.9 568.0 497.6 572.8 497.7C578.5 497.8 584.3 496.1 590.0 495.9C597.8 495.6 605.7 496.7 613.5 497.4C620.1 498.0 626.8 498.9 633.4 499.5C640.0 500.1 646.7 500.3 653.3 500.8C659.9 501.2 666.5 501.8 673.1 502.2C679.7 502.7 686.4 503.1 693.0 503.5C699.6 503.9 706.3 504.3 712.9 504.6C721.7 505.0 730.4 505.3 739.2 505.7" stroke="#00a651" stroke-dasharray="10 10.1" id="R_green_dash" stroke-dashoffset="3.0"/>
<path d="M293.6 564.4C296.3 563.8 299.4 563.8 301.8 562.6C303.5 561.7 305.1 560.3 306.6 559.0C310.1 556.0 312.8 552.0 315.5 548.2C319.6 542.5 322.5 536.1 326.1 530.1C329.1 525.3 332.0 520.4 335.2 515.7C338.1 511.4 341.7 507.5 344.2 503.0C346.8 498.5 348.2 493.3 350.5 488.6C351.7 486.1 352.6 483.5 354.2 481.3C356.3 478.4 359.7 476.6 362.3 474.1C366.2 470.2 369.6 465.8 373.1 461.5C377.6 455.9 381.3 449.8 385.8 444.3C389.8 439.3 393.9 434.4 398.4 429.8C404.0 424.0 410.1 418.6 416.5 413.6C421.7 409.5 427.6 406.4 432.8 402.2C435.3 400.2 437.5 397.9 440.0 396.0C445.6 391.7 452.0 388.5 458.1 384.9C464.0 381.4 470.0 378.1 476.1 374.9C482.1 371.8 488.2 368.9 494.2 365.9C500.2 362.9 506.4 360.1 512.3 356.9C518.5 353.5 524.1 349.1 530.4 346.0C534.5 344.0 538.9 342.6 543.0 340.6C544.8 339.7 546.5 338.6 548.4 337.9C550.7 337.0 553.2 336.3 555.7 336.1C558.1 335.9 560.5 336.6 562.9 336.6C567.1 336.5 571.5 335.6 575.5 334.3C580.6 332.7 585.2 329.4 590.0 327.0C591.2 326.4 592.4 325.7 593.6 325.2C598.1 323.2 603.2 322.5 608.1 321.6C610.5 321.1 612.9 320.2 615.3 320.4C617.4 320.6 619.5 322.0 621.6 322.5C626.0 323.5 630.7 323.1 635.2 323.1C640.0 323.1 644.8 322.4 649.6 322.2C654.4 321.9 659.3 321.8 664.1 321.6C668.9 321.3 673.8 321.2 678.6 320.7C682.8 320.3 687.0 319.6 691.2 318.9C696.1 318.0 700.9 317.0 705.7 315.7C710.6 314.4 715.3 312.8 720.1 311.3C724.6 309.9 729.1 308.4 733.7 307.2C735.5 306.7 737.4 306.3 739.2 305.9" stroke="#00a651" stroke-dasharray="2.3 4.75" stroke-width="1.85" id="R_green_dot" stroke-dashoffset="2.2"/>
<path d="M293.6 436.1C296.0 438.5 298.4 440.9 300.8 443.4C303.9 446.6 306.4 450.6 309.9 453.3C312.1 455.0 314.5 456.7 317.1 457.8C319.6 458.8 322.5 459.4 325.2 459.6C328.5 459.8 331.9 458.9 335.2 458.2C339.5 457.3 343.6 455.4 347.8 454.2C352.6 452.8 357.4 451.6 362.3 450.6C367.1 449.7 371.9 448.8 376.7 448.4C380.3 448.1 384.0 448.0 387.6 447.9C393.6 447.8 399.7 448.0 405.7 448.4C411.7 448.8 417.7 449.7 423.7 450.2C429.1 450.7 434.6 451.3 440.0 451.5C446.0 451.7 452.1 451.7 458.1 451.1C464.1 450.5 470.1 449.0 476.1 448.0C482.1 447.0 488.2 446.2 494.2 445.3C500.2 444.4 506.2 443.3 512.3 442.6C518.3 441.9 524.4 441.7 530.4 441.3C536.4 440.9 542.4 440.6 548.4 440.2C554.4 439.7 560.5 438.9 566.5 438.6C574.3 438.3 582.2 438.7 590.0 439.0C596.0 439.2 602.1 439.5 608.1 439.9C614.1 440.3 620.1 440.6 626.1 441.3C632.2 442.0 638.2 442.9 644.2 443.9C650.3 444.9 656.3 446.1 662.3 447.5C668.4 448.9 674.4 450.6 680.4 452.2C686.4 453.8 692.4 455.4 698.4 457.0C703.2 458.3 708.0 459.9 712.9 460.7C716.5 461.3 720.1 461.7 723.7 461.9C726.7 462.1 729.8 462.1 732.8 461.9C734.9 461.8 737.1 461.4 739.2 461.2" stroke="#0072bc"/>
<path d="M293.6 607.2C298.4 607.1 303.2 607.0 308.0 606.9C311.6 606.8 315.3 606.9 318.9 606.5C323.8 605.9 328.6 604.4 333.4 603.3C340.1 601.7 346.6 599.5 353.3 598.2C358.7 597.1 364.1 596.3 369.5 595.7C373.1 595.3 376.8 595.0 380.4 594.8C386.4 594.5 392.4 594.8 398.4 595.1C404.4 595.4 410.5 596.1 416.5 596.4C424.3 596.8 432.2 597.2 440.0 597.3C452.0 597.5 464.1 596.8 476.1 596.4C489.4 596.0 502.6 594.9 515.9 594.9C526.7 594.9 537.6 595.7 548.4 596.0C560.5 596.3 572.5 596.4 584.6 596.7C596.6 597.0 608.7 597.4 620.7 597.8C632.8 598.2 644.9 598.4 656.9 599.3C669.0 600.2 681.0 601.6 693.0 603.2C701.5 604.3 709.9 605.5 718.3 606.9C725.3 608.0 732.2 609.3 739.2 610.5" stroke="#0072bc" stroke-dasharray="10 10.1" id="R_blue_dash"/>
<path d="M293.6 548.2C298.4 544.3 303.1 540.2 308.1 536.5C311.0 534.3 314.2 532.4 317.1 530.1C322.3 526.0 326.9 521.2 331.6 516.6C336.5 511.9 341.0 506.7 346.0 502.1C349.8 498.7 353.7 495.3 357.8 492.2C361.6 489.3 365.4 486.4 369.5 484.0C373.6 481.6 377.9 479.7 382.2 477.7C386.3 475.8 390.5 473.8 394.8 472.3C399.5 470.7 404.4 469.6 409.3 468.7C414.0 467.8 418.9 467.5 423.7 466.9C429.1 466.3 434.6 465.9 440.0 465.2C446.1 464.4 452.1 463.6 458.1 462.5C464.1 461.3 470.1 459.7 476.1 458.3C482.1 456.9 488.1 455.5 494.2 454.3C500.2 453.1 506.2 451.9 512.3 451.1C518.3 450.4 524.4 450.2 530.4 449.8C536.4 449.4 542.4 449.0 548.4 448.6C554.4 448.2 560.5 447.7 566.5 447.5C574.3 447.3 582.2 447.5 590.0 447.7C596.0 447.9 602.1 448.2 608.1 448.6C614.1 448.9 620.1 449.2 626.1 449.8C632.2 450.4 638.2 451.3 644.2 452.2C650.2 453.1 656.3 454.1 662.3 455.2C668.4 456.3 674.4 457.5 680.4 458.9C685.2 460.0 690.0 461.2 694.8 462.5C699.1 463.6 703.2 465.0 707.5 466.1C711.7 467.1 715.9 468.0 720.1 468.8C724.9 469.7 729.7 470.6 734.6 471.0C736.1 471.1 737.7 471.2 739.2 471.3" stroke="#0072bc" stroke-dasharray="2.3 4.75" stroke-width="1.85" id="R_blue_dot" stroke-dashoffset="0.9"/>
</g>
<line x1="358.8" y1="76.6" x2="434" y2="76.6" stroke="#000" stroke-width="1.7"/>
<line x1="358.8" y1="106.3" x2="434" y2="106.3" stroke="#ed1c24" stroke-width="1.7"/>
<line x1="358.8" y1="136.3" x2="434" y2="136.3" stroke="#00a651" stroke-width="1.7"/>
<line x1="358.8" y1="166.0" x2="434" y2="166.0" stroke="#0072bc" stroke-width="1.7"/>
<g font-family="'Liberation Serif', serif" font-size="29.9px" fill="#000" opacity="0.999">
<text transform="translate(452.00 84.00) scale(1 1.040)">GR-FullOp</text>
<text transform="translate(452.00 113.70) scale(1 1.040)">N-FullOp</text>
<text transform="translate(452.00 143.70) scale(1 1.040)">N-ReducOp</text>
<text transform="translate(452.00 173.40) scale(1 1.040)">N-ReducOp-NOC</text>
<text transform="translate(100.40 576.14) scale(1 1.020)" text-anchor="end" font-size="30.8px">100</text>
<text transform="translate(100.40 423.61) scale(1 1.020)" text-anchor="end" font-size="30.8px">200</text>
<text transform="translate(100.40 271.08) scale(1 1.020)" text-anchor="end" font-size="30.8px">300</text>
<text transform="translate(100.40 118.55) scale(1 1.020)" text-anchor="end" font-size="30.8px">400</text>
<text transform="translate(100.40 718.70) scale(1 1.020)" text-anchor="end" font-size="30.8px">0</text>
<text transform="translate(746.60 572.57) scale(1 1.020)" font-size="30.8px">20</text>
<text transform="translate(746.60 416.67) scale(1 1.020)" font-size="30.8px">40</text>
<text transform="translate(746.60 260.77) scale(1 1.020)" font-size="30.8px">60</text>
<text transform="translate(746.60 104.87) scale(1 1.020)" font-size="30.8px">80</text>
<text transform="translate(746.60 718.70) scale(1 1.020)" font-size="30.8px">0</text>
<text transform="translate(107.95 755.50) scale(1 1.020)" text-anchor="middle" font-size="30.8px">-20</text>
<text transform="translate(182.27 755.50) scale(1 1.020)" text-anchor="middle" font-size="30.8px">0</text>
<text transform="translate(293.76 755.50) scale(1 1.020)" text-anchor="middle" font-size="30.8px">30</text>
<text transform="translate(367.96 755.50) scale(1 1.020)" text-anchor="middle" font-size="30.8px">50</text>
<text transform="translate(553.46 755.50) scale(1 1.020)" text-anchor="middle" font-size="30.8px">100</text>
<text transform="translate(738.96 755.50) scale(1 1.020)" text-anchor="middle" font-size="30.8px">150</text>
<text transform="translate(424.00 787.60) scale(1 1.030)" text-anchor="middle">post-bounce time [ms]</text>
<text transform="translate(32.00 502.30) rotate(-90) scale(1 1.050)">Luminosity [Bethe s<tspan dy="-13.7" font-size="17.3px">-1</tspan><tspan dy="13.7">]</tspan></text>
<text transform="translate(803.10 502.30) rotate(-90) scale(1 1.050)">Luminosity [Bethe s<tspan dy="-13.7" font-size="17.3px">-1</tspan><tspan dy="13.7">]</tspan></text>
</g>
</svg>
</body></html>
